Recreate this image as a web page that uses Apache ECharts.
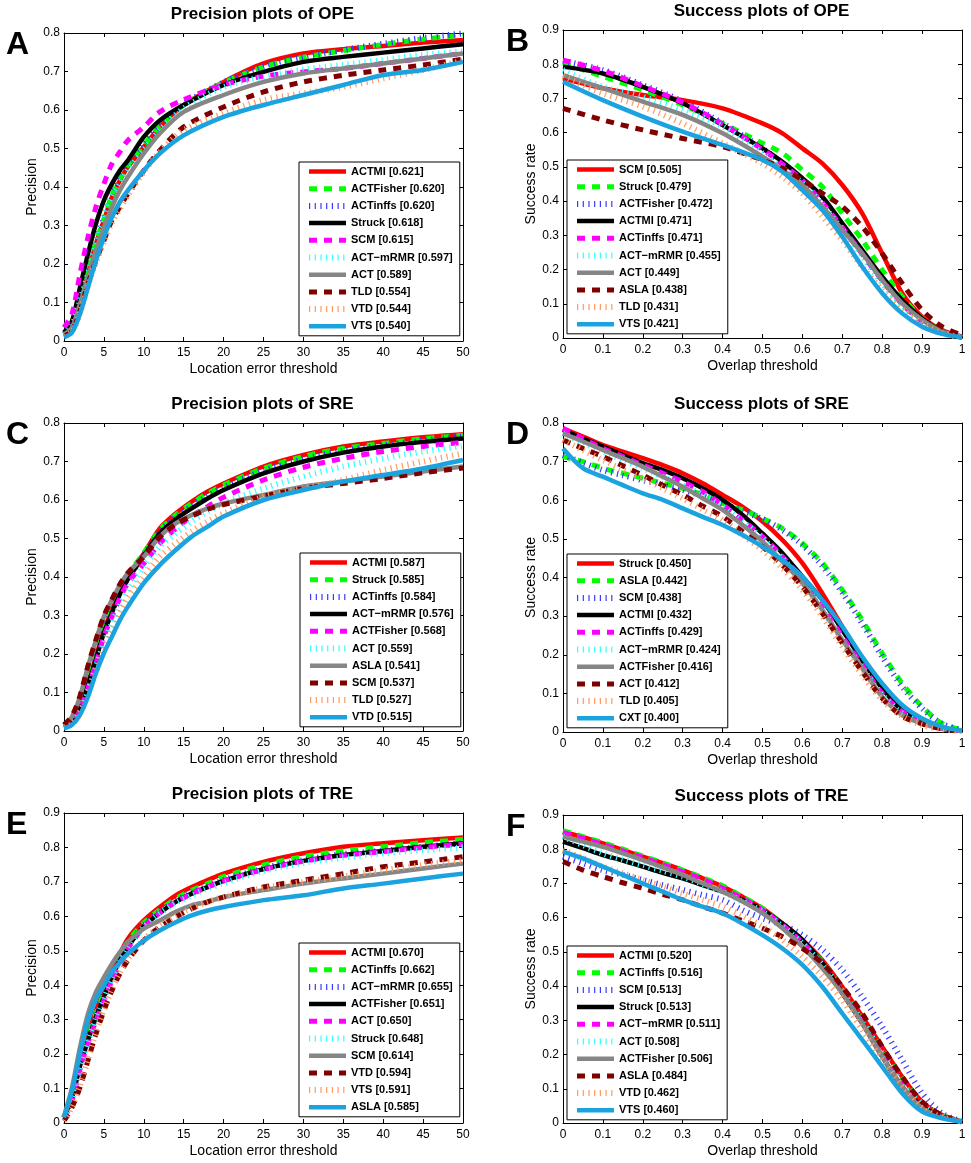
<!DOCTYPE html>
<html>
<head>
<meta charset="utf-8">
<script src="https://cdn.jsdelivr.net/npm/echarts@6/dist/echarts.min.js"></script>
<style>
html,body{margin:0;padding:0;background:#fff;}
#chart{width:971px;height:1163px;}
</style>
</head>
<body>
<div id="chart"></div>
<script>
// ---------- x samples ----------
const precXA = [0,1,2,3,4,5,6,7,8,10,12,15,20,25,30,35,40,45,50];
const precX  = [0,1,2,3,4,5,6,7,8,10,12,14,16,18,20,25,30,35,40,45,50];
const succXB = [0,0.1,0.2,0.3,0.4,0.5,0.55,0.6,0.65,0.7,0.75,0.8,0.85,0.9,0.95,1];
const succX  = [0,0.05,0.1,0.15,0.2,0.25,0.3,0.35,0.4,0.45,0.5,0.55,0.6,0.65,0.7,0.75,0.8,0.85,0.9,0.95,1];

// ---------- A: Precision plots of OPE ----------
const A_names  = ['ACTMI','ACTFisher','ACTinffs','Struck','SCM','ACT\u2212mRMR','ACT','TLD','VTD','VTS'];
const A_scores = ['0.621','0.620','0.620','0.618','0.615','0.597','0.589','0.554','0.544','0.540'];
const A_ACTMI     = [0.017,0.035,0.096,0.174,0.252,0.313,0.374,0.417,0.452,0.504,0.556,0.613,0.673,0.721,0.747,0.758,0.766,0.775,0.782];
const A_ACTFisher = [0.017,0.039,0.100,0.178,0.256,0.317,0.378,0.421,0.456,0.508,0.558,0.613,0.671,0.712,0.737,0.754,0.770,0.784,0.795];
const A_ACTinffs  = [0.017,0.040,0.100,0.180,0.258,0.318,0.378,0.422,0.457,0.510,0.560,0.615,0.672,0.714,0.738,0.756,0.772,0.787,0.799];
const A_Struck    = [0.022,0.052,0.139,0.226,0.304,0.365,0.408,0.443,0.469,0.530,0.573,0.613,0.665,0.699,0.725,0.738,0.749,0.760,0.771];
const A_SCM       = [0.035,0.070,0.174,0.269,0.348,0.408,0.460,0.491,0.521,0.556,0.595,0.627,0.665,0.688,0.699,0.708,0.721,0.734,0.747];
const A_ACTmRMR   = [0.017,0.039,0.104,0.174,0.252,0.313,0.374,0.408,0.443,0.495,0.547,0.604,0.660,0.686,0.705,0.717,0.730,0.743,0.752];
const A_ACT       = [0.017,0.035,0.096,0.165,0.235,0.295,0.348,0.391,0.426,0.487,0.539,0.595,0.639,0.673,0.695,0.708,0.721,0.734,0.747];
const A_TLD       = [0.013,0.026,0.078,0.148,0.209,0.261,0.313,0.348,0.382,0.443,0.495,0.556,0.608,0.647,0.673,0.690,0.704,0.717,0.732];
const A_VTD       = [0.013,0.024,0.074,0.143,0.204,0.256,0.308,0.343,0.378,0.439,0.491,0.547,0.591,0.626,0.643,0.660,0.682,0.704,0.728];
const A_VTS       = [0.009,0.022,0.070,0.139,0.209,0.269,0.321,0.361,0.391,0.443,0.487,0.534,0.582,0.613,0.639,0.665,0.691,0.704,0.725];

// ---------- B: Success plots of OPE ----------
const B_names  = ['SCM','Struck','ACTFisher','ACTMI','ACTinffs','ACT\u2212mRMR','ACT','ASLA','TLD','VTS'];
const B_scores = ['0.505','0.479','0.472','0.471','0.471','0.455','0.449','0.438','0.431','0.421'];
const B_SCM       = [0.759,0.730,0.710,0.695,0.671,0.627,0.598,0.554,0.510,0.447,0.364,0.247,0.131,0.062,0.023,0.004];
const B_Struck    = [0.803,0.764,0.725,0.681,0.627,0.569,0.540,0.491,0.442,0.364,0.286,0.199,0.121,0.057,0.019,0.002];
const B_ACTFisher = [0.810,0.783,0.739,0.691,0.627,0.554,0.510,0.462,0.398,0.325,0.247,0.169,0.101,0.048,0.016,0.002];
const B_ACTMI     = [0.793,0.773,0.734,0.686,0.622,0.554,0.515,0.467,0.413,0.335,0.257,0.179,0.111,0.057,0.019,0.002];
const B_ACTinffs  = [0.812,0.781,0.736,0.688,0.625,0.551,0.508,0.460,0.395,0.323,0.245,0.168,0.099,0.048,0.016,0.002];
const B_ACTmRMR   = [0.783,0.734,0.705,0.666,0.618,0.540,0.496,0.452,0.389,0.316,0.238,0.160,0.096,0.048,0.016,0.002];
const B_ACT       = [0.768,0.730,0.691,0.652,0.598,0.530,0.491,0.447,0.384,0.316,0.247,0.169,0.101,0.053,0.019,0.002];
const B_ASLA      = [0.671,0.637,0.608,0.583,0.559,0.520,0.496,0.462,0.423,0.384,0.325,0.247,0.160,0.082,0.033,0.009];
const B_TLD       = [0.764,0.715,0.676,0.627,0.569,0.510,0.471,0.423,0.355,0.286,0.208,0.140,0.082,0.043,0.014,0.002];
const B_VTS       = [0.749,0.695,0.647,0.603,0.564,0.520,0.486,0.432,0.374,0.296,0.208,0.131,0.072,0.033,0.012,0.002];

// ---------- C: Precision plots of SRE ----------
const C_names  = ['ACTMI','Struck','ACTinffs','ACT\u2212mRMR','ACTFisher','ACT','ASLA','SCM','TLD','VTD'];
const C_scores = ['0.587','0.585','0.584','0.576','0.568','0.559','0.541','0.537','0.527','0.515'];
const C_ACTMI     = [0.011,0.024,0.063,0.124,0.193,0.262,0.314,0.362,0.401,0.461,0.526,0.565,0.596,0.622,0.643,0.687,0.717,0.739,0.752,0.763,0.771];
const C_Struck    = [0.011,0.024,0.065,0.128,0.197,0.267,0.319,0.366,0.405,0.463,0.522,0.561,0.591,0.617,0.639,0.682,0.713,0.734,0.747,0.759,0.768];
const C_ACTinffs  = [0.011,0.024,0.063,0.124,0.193,0.262,0.314,0.359,0.397,0.457,0.518,0.555,0.584,0.610,0.633,0.676,0.706,0.728,0.742,0.754,0.765];
const C_ACTmRMR   = [0.011,0.024,0.061,0.119,0.186,0.255,0.307,0.355,0.394,0.455,0.513,0.550,0.578,0.604,0.626,0.669,0.700,0.723,0.739,0.751,0.760];
const C_ACTFisher = [0.010,0.020,0.055,0.111,0.176,0.245,0.297,0.345,0.384,0.435,0.487,0.526,0.558,0.583,0.607,0.652,0.685,0.708,0.726,0.739,0.750];
const C_ACT       = [0.010,0.018,0.050,0.102,0.167,0.228,0.280,0.327,0.366,0.427,0.479,0.513,0.544,0.570,0.591,0.630,0.661,0.687,0.708,0.726,0.740];
const C_ASLA      = [0.016,0.037,0.089,0.167,0.236,0.297,0.340,0.379,0.410,0.453,0.505,0.539,0.561,0.578,0.591,0.613,0.635,0.648,0.661,0.674,0.687];
const C_SCM       = [0.016,0.039,0.091,0.169,0.237,0.299,0.342,0.381,0.411,0.453,0.503,0.537,0.558,0.576,0.588,0.610,0.630,0.643,0.656,0.671,0.683];
const C_TLD       = [0.010,0.018,0.046,0.094,0.154,0.210,0.258,0.306,0.345,0.401,0.453,0.487,0.518,0.544,0.565,0.609,0.630,0.652,0.678,0.700,0.721];
const C_VTD       = [0.007,0.016,0.042,0.089,0.150,0.202,0.245,0.288,0.323,0.384,0.431,0.470,0.505,0.531,0.557,0.600,0.626,0.648,0.665,0.682,0.704];

// ---------- D: Success plots of SRE ----------
const D_names  = ['Struck','ASLA','SCM','ACTMI','ACTinffs','ACT\u2212mRMR','ACTFisher','ACT','TLD','CXT'];
const D_scores = ['0.450','0.442','0.438','0.432','0.429','0.424','0.416','0.412','0.405','0.400'];
const D_Struck    = [0.786,0.765,0.743,0.726,0.709,0.691,0.670,0.644,0.614,0.583,0.545,0.497,0.437,0.359,0.273,0.186,0.117,0.053,0.027,0.009,0.003];
const D_ASLA      = [0.713,0.700,0.683,0.670,0.657,0.644,0.631,0.614,0.592,0.575,0.553,0.527,0.488,0.437,0.368,0.290,0.204,0.126,0.066,0.022,0.005];
const D_SCM       = [0.717,0.697,0.678,0.665,0.652,0.640,0.627,0.611,0.590,0.572,0.551,0.523,0.484,0.430,0.361,0.281,0.195,0.117,0.061,0.021,0.005];
const D_ACTMI     = [0.782,0.760,0.739,0.717,0.696,0.678,0.657,0.631,0.601,0.562,0.514,0.463,0.402,0.342,0.264,0.186,0.113,0.057,0.027,0.009,0.003];
const D_ACTinffs  = [0.786,0.760,0.734,0.713,0.691,0.670,0.648,0.622,0.588,0.549,0.506,0.454,0.394,0.324,0.247,0.173,0.100,0.053,0.027,0.009,0.003];
const D_ACTmRMR   = [0.773,0.749,0.726,0.704,0.683,0.661,0.639,0.614,0.583,0.545,0.501,0.450,0.389,0.316,0.238,0.165,0.096,0.048,0.024,0.009,0.003];
const D_ACTFisher = [0.773,0.752,0.730,0.709,0.687,0.661,0.635,0.605,0.575,0.536,0.493,0.441,0.385,0.316,0.238,0.165,0.091,0.044,0.022,0.009,0.003];
const D_ACT       = [0.756,0.734,0.713,0.689,0.665,0.639,0.614,0.585,0.558,0.519,0.480,0.432,0.376,0.307,0.230,0.156,0.087,0.041,0.021,0.008,0.003];
const D_TLD       = [0.756,0.730,0.704,0.680,0.657,0.631,0.605,0.576,0.549,0.510,0.471,0.424,0.368,0.299,0.221,0.148,0.083,0.040,0.018,0.007,0.003];
const D_CXT       = [0.734,0.683,0.661,0.639,0.618,0.601,0.579,0.557,0.536,0.510,0.480,0.445,0.402,0.342,0.273,0.195,0.126,0.070,0.035,0.014,0.003];

// ---------- E: Precision plots of TRE ----------
const E_names  = ['ACTMI','ACTinffs','ACT\u2212mRMR','ACTFisher','ACT','Struck','SCM','VTD','VTS','ASLA'];
const E_scores = ['0.670','0.662','0.655','0.651','0.650','0.648','0.614','0.594','0.591','0.585'];
const E_ACTMI     = [0.016,0.074,0.171,0.258,0.326,0.384,0.443,0.491,0.535,0.588,0.627,0.661,0.685,0.705,0.724,0.758,0.783,0.802,0.812,0.821,0.829];
const E_ACTinffs  = [0.016,0.072,0.166,0.249,0.317,0.375,0.433,0.482,0.526,0.581,0.619,0.651,0.676,0.695,0.715,0.749,0.773,0.790,0.802,0.814,0.823];
const E_ACTmRMR   = [0.016,0.071,0.163,0.244,0.309,0.367,0.425,0.474,0.516,0.574,0.613,0.645,0.668,0.687,0.705,0.739,0.763,0.781,0.790,0.802,0.812];
const E_ACTFisher = [0.016,0.072,0.166,0.239,0.307,0.365,0.423,0.472,0.511,0.571,0.610,0.642,0.666,0.685,0.703,0.737,0.761,0.778,0.790,0.802,0.812];
const E_ACT       = [0.014,0.064,0.156,0.231,0.297,0.355,0.414,0.462,0.506,0.569,0.610,0.642,0.666,0.685,0.703,0.736,0.760,0.777,0.788,0.800,0.810];
const E_Struck    = [0.016,0.069,0.161,0.237,0.302,0.360,0.418,0.467,0.509,0.569,0.608,0.639,0.661,0.681,0.697,0.732,0.755,0.771,0.783,0.792,0.800];
const E_SCM       = [0.020,0.103,0.219,0.317,0.380,0.423,0.462,0.496,0.525,0.564,0.588,0.613,0.632,0.642,0.656,0.676,0.695,0.710,0.724,0.739,0.753];
const E_VTD       = [0.006,0.045,0.103,0.181,0.258,0.326,0.384,0.433,0.472,0.530,0.569,0.598,0.622,0.642,0.656,0.685,0.705,0.724,0.744,0.758,0.773];
const E_VTS       = [0.006,0.047,0.108,0.186,0.263,0.331,0.389,0.438,0.477,0.532,0.571,0.600,0.624,0.642,0.656,0.682,0.700,0.716,0.734,0.749,0.763];
const E_ASLA      = [0.016,0.093,0.200,0.297,0.360,0.399,0.438,0.467,0.491,0.530,0.559,0.583,0.603,0.617,0.627,0.647,0.661,0.681,0.695,0.710,0.724];

// ---------- F: Success plots of TRE ----------
const F_names  = ['ACTMI','ACTinffs','SCM','Struck','ACT\u2212mRMR','ACT','ACTFisher','ASLA','VTD','VTS'];
const F_scores = ['0.520','0.516','0.513','0.513','0.511','0.508','0.506','0.484','0.462','0.460'];
const F_ACTMI     = [0.851,0.835,0.817,0.798,0.778,0.759,0.739,0.715,0.691,0.661,0.627,0.583,0.535,0.476,0.398,0.311,0.223,0.135,0.062,0.023,0.004];
const F_ACTinffs  = [0.854,0.837,0.819,0.800,0.780,0.760,0.739,0.717,0.693,0.661,0.627,0.581,0.530,0.471,0.393,0.305,0.218,0.131,0.059,0.022,0.004];
const F_SCM       = [0.778,0.759,0.739,0.725,0.710,0.695,0.681,0.666,0.652,0.622,0.598,0.579,0.549,0.506,0.447,0.369,0.281,0.184,0.087,0.028,0.004];
const F_Struck    = [0.822,0.803,0.783,0.767,0.749,0.731,0.715,0.695,0.676,0.652,0.622,0.583,0.535,0.467,0.379,0.291,0.194,0.106,0.048,0.019,0.004];
const F_ACTmRMR   = [0.849,0.832,0.814,0.795,0.776,0.755,0.734,0.712,0.686,0.656,0.622,0.579,0.527,0.467,0.389,0.301,0.213,0.126,0.057,0.021,0.004];
const F_ACT       = [0.837,0.812,0.788,0.770,0.754,0.737,0.720,0.698,0.676,0.647,0.618,0.574,0.525,0.462,0.384,0.296,0.204,0.116,0.053,0.020,0.004];
const F_ACTFisher = [0.837,0.822,0.807,0.788,0.768,0.747,0.725,0.700,0.676,0.647,0.613,0.569,0.515,0.452,0.379,0.291,0.194,0.106,0.043,0.017,0.004];
const F_ASLA      = [0.764,0.739,0.720,0.702,0.686,0.668,0.652,0.632,0.613,0.591,0.569,0.544,0.510,0.467,0.398,0.320,0.223,0.135,0.062,0.023,0.004];
const F_VTD       = [0.798,0.773,0.749,0.730,0.710,0.691,0.671,0.652,0.632,0.605,0.574,0.535,0.486,0.428,0.359,0.272,0.184,0.106,0.043,0.017,0.004];
const F_VTS       = [0.793,0.773,0.749,0.725,0.700,0.676,0.652,0.632,0.613,0.583,0.549,0.510,0.462,0.398,0.320,0.243,0.165,0.087,0.033,0.014,0.004];

// ---------- panel definitions ----------
const panels = [
  {title:'Precision plots of OPE', letter:'A', kind:'prec', yMax:0.8, x:precXA, names:A_names, scores:A_scores,
   values:[A_ACTMI,A_ACTFisher,A_ACTinffs,A_Struck,A_SCM,A_ACTmRMR,A_ACT,A_TLD,A_VTD,A_VTS],
   grid:{left:64,top:33,width:399,height:308}, legend:{left:299,top:162}},
  {title:'Success plots of OPE', letter:'B', kind:'succ', yMax:0.9, x:succXB, names:B_names, scores:B_scores,
   values:[B_SCM,B_Struck,B_ACTFisher,B_ACTMI,B_ACTinffs,B_ACTmRMR,B_ACT,B_ASLA,B_TLD,B_VTS],
   grid:{left:563,top:30,width:399,height:308}, legend:{left:567,top:160}},
  {title:'Precision plots of SRE', letter:'C', kind:'prec', yMax:0.8, x:precX, names:C_names, scores:C_scores,
   values:[C_ACTMI,C_Struck,C_ACTinffs,C_ACTmRMR,C_ACTFisher,C_ACT,C_ASLA,C_SCM,C_TLD,C_VTD],
   grid:{left:64,top:423,width:399,height:308}, legend:{left:300,top:553}},
  {title:'Success plots of SRE', letter:'D', kind:'succ', yMax:0.8, x:succX, names:D_names, scores:D_scores,
   values:[D_Struck,D_ASLA,D_SCM,D_ACTMI,D_ACTinffs,D_ACTmRMR,D_ACTFisher,D_ACT,D_TLD,D_CXT],
   grid:{left:563,top:423,width:399,height:309}, legend:{left:567,top:554}},
  {title:'Precision plots of TRE', letter:'E', kind:'prec', yMax:0.9, x:precX, names:E_names, scores:E_scores,
   values:[E_ACTMI,E_ACTinffs,E_ACTmRMR,E_ACTFisher,E_ACT,E_Struck,E_SCM,E_VTD,E_VTS,E_ASLA],
   grid:{left:64,top:813,width:399,height:310}, legend:{left:299,top:943}},
  {title:'Success plots of TRE', letter:'F', kind:'succ', yMax:0.9, x:succX, names:F_names, scores:F_scores,
   values:[F_ACTMI,F_ACTinffs,F_SCM,F_Struck,F_ACTmRMR,F_ACT,F_ACTFisher,F_ASLA,F_VTD,F_VTS],
   grid:{left:563,top:815,width:399,height:308}, legend:{left:567,top:946}}
];

// line style by legend rank (MATLAB-like cycling)
const rankStyles = [
  {color:'#ff0000', type:'solid', width:4.5},
  {color:'#00ff00', type:[8,7],   width:5},
  {color:'#3a3aff', type:[1.2,4.5], width:6},
  {color:'#000000', type:'solid', width:4.5},
  {color:'#ff00ff', type:[8,7],   width:5},
  {color:'#33ffff', type:[1.2,4.5], width:6},
  {color:'#868686', type:'solid', width:4.5},
  {color:'#800000', type:[8,7],   width:5},
  {color:'#ff9a60', type:[1.2,4.5], width:6},
  {color:'#1ba3e0', type:'solid', width:4.5}
];

const FONT = 'Liberation Sans, Arial, sans-serif';
const grids = [], xAxes = [], yAxes = [], series = [], legends = [], graphics = [];

panels.forEach((p, i) => {
  grids.push(Object.assign({show:false}, p.grid));
  const isPrec = p.kind === 'prec';
  const xBase = {
    type:'value', gridIndex:i, min:0, max:isPrec?50:1, interval:isPrec?5:0.1,
    axisLine:{onZero:false, lineStyle:{color:'#000', width:1}},
    axisTick:{inside:true, length:4, lineStyle:{color:'#000', width:1}},
    splitLine:{show:false}
  };
  xAxes.push(Object.assign({}, xBase, {
    position:'bottom',
    axisLabel:{color:'#000', fontSize:12, fontFamily:FONT, margin:6},
    name:isPrec?'Location error threshold':'Overlap threshold',
    nameLocation:'middle', nameGap:21,
    nameTextStyle:{color:'#000', fontSize:14, fontFamily:FONT}
  }));
  xAxes.push(Object.assign({}, xBase, {position:'top', axisLabel:{show:false}}));
  const yBase = {
    type:'value', gridIndex:i, min:0, max:p.yMax, interval:0.1,
    axisLine:{onZero:false, lineStyle:{color:'#000', width:1}},
    axisTick:{inside:true, length:4, lineStyle:{color:'#000', width:1}},
    splitLine:{show:false}
  };
  yAxes.push(Object.assign({}, yBase, {
    position:'left',
    axisLabel:{color:'#000', fontSize:12, fontFamily:FONT, margin:4},
    name:isPrec?'Precision':'Success rate',
    nameLocation:'middle', nameGap:24,
    nameTextStyle:{color:'#000', fontSize:14, fontFamily:FONT}
  }));
  yAxes.push(Object.assign({}, yBase, {position:'right', axisLabel:{show:false}}));

  const legendData = [];
  p.names.forEach((nm, k) => {
    const label = nm + ' [' + p.scores[k] + ']';
    legendData.push(label);
    const st = rankStyles[k];
    series.push({
      type:'line', name:label, xAxisIndex:2*i, yAxisIndex:2*i,
      data:p.x.map((xv, j) => [xv, p.values[k][j]]),
      symbol:'none', showSymbol:false, smooth:0.3,
      clip:true, animation:false, silent:true,
      lineStyle:{color:st.color, type:st.type, width:st.width, cap:'butt', join:'round'},
      itemStyle:{color:st.color},
      z:2 + k*0.01
    });
  });
  legends.push({
    data:legendData, orient:'vertical', left:p.legend.left, top:p.legend.top,
    itemWidth:37, itemHeight:12, itemGap:6.2, selectedMode:false,
    padding:[4,7,4,7], borderColor:'#000', borderWidth:1, borderRadius:0,
    backgroundColor:'#fff',
    itemStyle:{color:'rgba(0,0,0,0)', borderWidth:0, opacity:0},
    lineStyle:{width:'inherit', type:'inherit', color:'inherit', cap:'butt'},
    textStyle:{color:'#000', fontSize:11, fontWeight:'bold', fontFamily:FONT},
    z:10
  });

  const cx = p.grid.left + p.grid.width/2 - 1;
  graphics.push({
    type:'text', x:cx, y:p.grid.top - 19,
    style:{text:p.title, fill:'#000', font:'bold 17px ' + FONT, textAlign:'center', textVerticalAlign:'middle'}
  });
  graphics.push({
    type:'text', x:(i % 2 === 0) ? 6 : 506, y:p.grid.top + 12,
    style:{text:p.letter, fill:'#000', font:'bold 32px ' + FONT, textAlign:'left', textVerticalAlign:'middle'}
  });
});

const chart = echarts.init(document.getElementById('chart'), null, {renderer:'canvas'});
chart.setOption({
  backgroundColor:'#fff',
  animation:false,
  grid:grids, xAxis:xAxes, yAxis:yAxes, series:series, legend:legends,
  graphic:graphics
});
</script>
</body>
</html>
